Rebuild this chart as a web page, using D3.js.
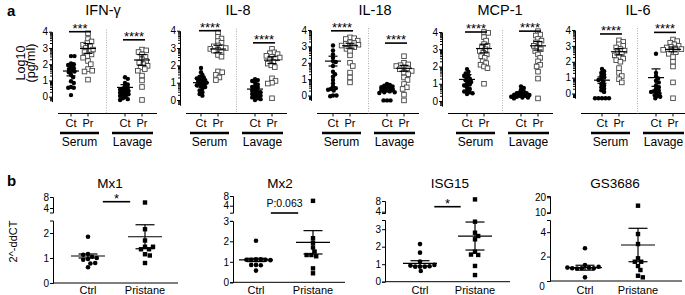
<!DOCTYPE html>
<html>
<head>
<meta charset="utf-8">
<script src="https://cdn.jsdelivr.net/npm/d3@7"></script>
<style>
body { margin: 0; background: #fff; }
svg { display: block; font-family: Arial, "Liberation Sans", sans-serif; }
</style>
</head>
<body>
<svg id="chart" width="685" height="295"></svg>
<script>
// ---- panel a data (log10 pg/ml) ----
const cytokines = ["IFN-γ", "IL-8", "IL-18", "MCP-1", "IL-6"];
const groupNames = ["Ct", "Pr", "Ct", "Pr"];
const sites = ["Serum", "Lavage"];
const logTicks = [0, 1, 2, 3, 4];

// each: [serum Ct, serum Pr, lavage Ct, lavage Pr]
const ifnPoints = [
  [2.5, 2.5, 2.05, 2.0, 1.95, 1.85, 1.75, 1.7, 1.6, 1.55, 1.5, 1.35, 1.2, 0.95, 0.85, 0.6, 0.55, 0.55, 0.1],
  [3.9, 3.55, 3.4, 3.3, 3.2, 3.1, 3.0, 2.9, 2.8, 2.75, 2.6, 2.5, 2.4, 2.2, 2.0, 1.7, 1.6, 1.55, 1.05],
  [1.2, 1.1, 0.85, 0.75, 0.65, 0.55, 0.5, 0.45, 0.4, 0.35, 0.3, 0.25, 0.2, 0.15, 0.1, 0.05, 0, -0.1, -0.15, -0.2],
  [2.9, 2.85, 2.75, 2.6, 2.45, 2.3, 2.2, 2.1, 2.0, 1.9, 1.8, 1.7, 1.6, 1.3, 1.0, 0.6, -0.2]
];
const il8Points = [
  [1.85, 1.6, 1.45, 1.35, 1.3, 1.25, 1.2, 1.15, 1.1, 1.05, 1.0, 0.95, 0.9, 0.85, 0.8, 0.75, 0.65, 0.55, 0.45, 0.35, 0.25],
  [3.9, 3.65, 3.55, 3.4, 3.3, 3.15, 3.1, 3.05, 3.0, 2.95, 2.9, 2.85, 2.75, 2.6, 2.5, 1.65, 1.6, 1.45, 1.3, 1.15],
  [1.2, 1.15, 1.1, 1.0, 0.9, 0.8, 0.75, 0.7, 0.6, 0.55, 0.5, 0.45, 0.4, 0.35, 0.3, 0.25, 0.2, 0.15, 0.1, 0.05, 0.0],
  [2.95, 2.75, 2.7, 2.65, 2.55, 2.5, 2.45, 2.4, 2.3, 2.2, 2.1, 2.0, 1.9, 1.25, 1.1, 1.0, 0.95, 0.1]
];
const il18Points = [
  [3.05, 2.75, 2.5, 2.3, 2.1, 2.05, 1.8, 1.45, 1.3, 1.15, 0.95, 0.75, 0.55, 0.45, 0.4, 0.35, 0.3, 0.0, 0.0, -0.05],
  [3.55, 3.5, 3.45, 3.35, 3.25, 3.2, 3.15, 3.1, 3.05, 3.0, 2.95, 2.85, 2.7, 2.45, 2.0, 1.8, 1.4, 1.1, 0.8],
  [0.7, 0.65, 0.6, 0.55, 0.5, 0.5, 0.45, 0.4, 0.35, 0.3, 0.3, 0.25, 0.2, 0.2, 0.15, -0.3, -0.3, -0.3],
  [2.4, 2.0, 1.9, 1.85, 1.8, 1.7, 1.65, 1.6, 1.5, 1.4, 1.3, 1.1, 0.95, 0.7, 0.5, 0.4, 0.05, -0.3]
];
const mcp1Points = [
  [1.85, 1.7, 1.6, 1.5, 1.45, 1.35, 1.3, 1.2, 1.15, 1.1, 1.0, 0.95, 0.9, 0.8, 0.7, 0.6, 0.55, 0.5, 0.45, 0.4],
  [4.0, 3.95, 3.7, 3.5, 3.3, 3.2, 3.1, 3.0, 2.9, 2.8, 2.7, 2.6, 2.5, 2.3, 2.2, 2.1, 2.0, 1.9, 1.0],
  [0.85, 0.75, 0.65, 0.55, 0.5, 0.45, 0.45, 0.4, 0.35, 0.35, 0.3, 0.3, 0.25, 0.25, 0.2, 0.2, 0.15],
  [4.05, 3.85, 3.8, 3.6, 3.5, 3.4, 3.3, 3.2, 3.1, 3.0, 2.9, 2.7, 2.5, 2.3, 2.1, 2.0, 1.7, 1.3, 0.15]
];
const il6Points = [
  [1.55, 1.4, 1.3, 1.2, 1.1, 1.0, 0.9, 0.85, 0.75, 0.6, 0.5, 0.4, 0.3, 0.2, 0.1, -0.3, -0.3, -0.3, -0.3, -0.3],
  [3.35, 3.25, 3.1, 3.0, 2.9, 2.8, 2.7, 2.6, 2.5, 2.4, 2.3, 2.2, 2.1, 2.0, 1.6, 1.3, 1.1, 0.9, 0.7],
  [2.5, 1.3, 1.1, 0.95, 0.8, 0.7, 0.5, 0.4, 0.3, 0.2, 0.15, 0.1, 0.05, 0.0, -0.1, -0.15, -0.2, -0.3],
  [3.4, 3.3, 3.2, 3.1, 3.0, 2.95, 2.9, 2.85, 2.8, 2.75, 2.7, 2.6, 2.5, 2.3, 2.0, 1.7, 0.7, -0.3]
];
const cytoPoints = [ifnPoints, il8Points, il18Points, mcp1Points, il6Points];
const cytoMeans = [[1.58, 2.97, 0.57, 2.26], [1.0, 2.94, 0.63, 2.3], [2.1, 3.04, 0.4, 1.66], [1.25, 3.04, 0.44, 3.2], [0.84, 2.63, 1.0, 2.78]];
const cytoErrors = [[0.3, 0.3, 0.17, 0.33], [0.25, 0.22, 0.15, 0.2], [0.3, 0.15, 0.1, 0.18], [0.28, 0.25, 0.08, 0.25], [0.2, 0.2, 0.55, 0.15]];
const cytoStars = [["***", "****"], ["****", "****"], ["****", "****"], ["****", "****"], ["****", "****"]];
const cytoStarLevels = [[4.0, 3.5], [4.0, 3.3], [3.95, 3.2], [4.0, 4.05], [3.75, 3.85]];

// ---- panel b data (2^-ddCT) ----
const genes = ["Mx1", "Mx2", "ISG15", "GS3686"];
const treatments = ["Ctrl", "Pristane"];
const mx1Values = [
  [1.85, 1.16, 1.05, 0.96, 0.93, 1.0, 1.13, 0.63, 0.78, 0.8],
  [6.0, 2.15, 1.7, 1.45, 1.35, 1.35, 1.45, 1.15, 1.1, 0.8]
];
const mx2Values = [
  [2.03, 1.12, 1.12, 1.1, 1.1, 1.1, 1.08, 0.85, 0.83, 0.85, 0.57],
  [6.0, 2.15, 1.93, 1.7, 1.5, 1.33, 1.27, 1.33, 0.68, 0.44]
];
const isg15Values = [
  [2.15, 1.66, 1.15, 0.86, 0.86, 0.86, 0.88, 0.92, 0.96, 0.61],
  [8.6, 3.43, 2.8, 2.61, 2.42, 1.71, 1.53, 1.55, 0.9, 0.38]
];
const gs3686Values = [
  [2.68, 1.31, 1.09, 1.05, 1.02, 1.05, 1.05, 1.17, 0.3, 1.1],
  [14.4, 3.85, 3.03, 1.86, 1.58, 1.58, 1.23, 0.9, 0.43, 0.3]
];
const geneValues = [mx1Values, mx2Values, isg15Values, gs3686Values];
const geneMeans = [[1.08, 1.85], [1.09, 1.95], [1.05, 2.61], [1.09, 2.95]];
const geneErrors = [[0.08, 0.48], [0.08, 0.57], [0.15, 0.8], [0.2, 1.37]];
const geneSig = ["*", "P:0.063", "*", null];
const lowerTicks = [[0, 1, 2], [0, 1, 2, 3], [0, 1, 2, 3], [2, 4]];
const upperTicks = [[4, 8], [4, 8], [4, 8], [10, 20]];

// ---- layout ----
const aAxisX = [52, 180, 311, 442, 575];
const aStartX = [71, 201, 333, 467, 602];
const aGroupOff = [0, 17, 54, 71];
const aY4 = [31.7, 30.7, 30, 32, 30];
const aY0 = [96.7, 100, 95.5, 101, 93.5];
const aTitleX = [103, 238, 375, 500, 638];
const aXAxisY = 113.5;

const bAxisX = [53, 233, 385, 550];
const bGroupX = [[88, 145], [256, 313], [420, 475], [585, 638]];
const bXEnd = [178, 345, 510, 682];
const bTitleX = [110, 280, 450, 615];
const bY0 = [283, 282.3, 281.7, 281];
const bPxUnit = [25, 20.5, 17.5, 12.2];
const bLowerTop = [220.5, 221, 220, 220];
const bUpperY = [[208, 197], [205.7, 196], [211.7, 201], [212.3, 197.3]];
const bUpperSeg = [[197, 212.5], [196, 212.7], [201, 213], [196, 213]];
const bSigY = [201.7, 213, 206.7, null];

const svg = d3.select("#chart");

function swarm(vals, yOf, cx, minDist, step) {
  const placed = [];
  return vals.map(v => {
    const y = yOf(v);
    let x = cx;
    for (let k = 0; k < 80; k++) {
      const tx = cx + Math.ceil(k / 2) * step * (k % 2 ? 1 : -1);
      if (placed.every(p => (p.x - tx) ** 2 + (p.y - y) ** 2 >= minDist * minDist)) { x = tx; break; }
    }
    placed.push({x, y});
    return {x, y, v};
  });
}

function styleAxis(g, fs) {
  g.selectAll("path, line").attr("stroke", "#000").attr("stroke-width", 1);
  g.selectAll("text").attr("fill", "#000").style("font-size", fs + "px").style("font-family", "Arial, 'Liberation Sans', sans-serif");
}

// panel labels
svg.append("text").attr("x", 7).attr("y", 16).attr("font-weight", "bold").attr("font-size", 15).text("a");
svg.append("text").attr("x", 7).attr("y", 186).attr("font-weight", "bold").attr("font-size", 15).text("b");

// y label panel a
const ylab = svg.append("g").attr("transform", "translate(0,63)");
ylab.append("text").attr("transform", "translate(25,0) rotate(-90)").attr("text-anchor", "middle").attr("font-size", 12.5).text("Log10");
ylab.append("text").attr("transform", "translate(35,0) rotate(-90)").attr("text-anchor", "middle").attr("font-size", 12.5).text("(pg/ml)");

// minor log ticks
const minorVals = [];
for (let d = -1; d <= 3; d++) for (let k = 2; k <= 9; k++) {
  const v = d + Math.log10(k);
  if (v >= -0.3 && v < 4) minorVals.push(v);
}

cytokines.forEach((name, p) => {
  const y = d3.scaleLinear().domain([0, 4]).range([aY0[p], aY4[p]]);
  const x = d3.scaleOrdinal().domain(d3.range(4)).range(aGroupOff.map(o => aStartX[p] + o));
  const yAxisScale = d3.scaleLinear().domain([-0.3, 4]).range([y(-0.3), y(4)]);
  const g = svg.append("g");

  g.append("text").attr("x", aTitleX[p]).attr("y", 15).attr("text-anchor", "middle").attr("font-size", 14.5).text(name);

  const ax = g.append("g").attr("transform", `translate(${aAxisX[p]},0)`)
    .call(d3.axisLeft(yAxisScale).tickValues(logTicks).tickSize(3).tickSizeOuter(0).tickPadding(1).tickFormat(d3.format("d")));
  styleAxis(ax, 10);
  const mn = g.append("g").attr("transform", `translate(${aAxisX[p]},0)`)
    .call(d3.axisLeft(yAxisScale).tickValues(minorVals).tickSize(2).tickFormat(""));
  mn.select(".domain").remove();
  styleAxis(mn, 10);

  // x axis
  const x0 = aAxisX[p] + 6, x1 = aStartX[p] + 86;
  g.append("line").attr("x1", x0).attr("x2", x1).attr("y1", aXAxisY).attr("y2", aXAxisY).attr("stroke", "#000");
  d3.range(4).forEach(i => {
    g.append("line").attr("x1", x(i)).attr("x2", x(i)).attr("y1", aXAxisY).attr("y2", aXAxisY + 3).attr("stroke", "#000");
    g.append("text").attr("x", x(i)).attr("y", 127).attr("text-anchor", "middle").attr("font-size", 11).text(groupNames[i]);
  });
  // divider
  const divX = aStartX[p] + 35.5;
  g.append("line").attr("x1", divX).attr("x2", divX).attr("y1", y(4) - 2).attr("y2", aXAxisY)
    .attr("stroke", "#999").attr("stroke-width", 0.8).attr("stroke-dasharray", "1,1.5");
  // site bars
  sites.forEach((s, j) => {
    const bx0 = j === 0 ? aStartX[p] - 11 : aStartX[p] + 41;
    const bx1 = j === 0 ? aStartX[p] + 28 : aStartX[p] + 82;
    g.append("line").attr("x1", bx0).attr("x2", bx1).attr("y1", 133).attr("y2", 133).attr("stroke", "#000").attr("stroke-width", 2.6);
    g.append("text").attr("x", (bx0 + bx1) / 2).attr("y", 146).attr("text-anchor", "middle").attr("font-size", 12).text(s);
  });

  // points
  cytoPoints[p].forEach((vals, i) => {
    const pts = swarm(vals, y, x(i), i % 2 ? 3.9 : 2.9, 0.7);
    if (i % 2 === 0) {
      g.selectAll(null).data(pts).enter().append("circle")
        .attr("cx", d => d.x).attr("cy", d => d.y).attr("r", 2.2).attr("fill", "#000");
    } else {
      g.selectAll(null).data(pts).enter().append("rect")
        .attr("x", d => d.x - 2.3).attr("y", d => d.y - 2.3).attr("width", 4.6).attr("height", 4.6)
        .attr("fill", "#fff").attr("stroke", "#444").attr("stroke-width", 0.9);
    }
    // mean +- error
    const m = cytoMeans[p][i], e = cytoErrors[p][i];
    g.append("line").attr("x1", x(i) - 8).attr("x2", x(i) + 8).attr("y1", y(m)).attr("y2", y(m)).attr("stroke", "#000").attr("stroke-width", 1.2);
    g.append("line").attr("x1", x(i)).attr("x2", x(i)).attr("y1", y(m - e)).attr("y2", y(m + e)).attr("stroke", "#000").attr("stroke-width", 1.2);
    [m - e, m + e].forEach(v => g.append("line").attr("x1", x(i) - 4.5).attr("x2", x(i) + 4.5).attr("y1", y(v)).attr("y2", y(v)).attr("stroke", "#000").attr("stroke-width", 1.2));
  });

  // significance
  [0, 1].forEach(j => {
    const sy = y(cytoStarLevels[p][j]);
    const sx0 = x(j * 2) - 2, sx1 = x(j * 2 + 1) + 3;
    g.append("line").attr("x1", sx0).attr("x2", sx1).attr("y1", sy).attr("y2", sy).attr("stroke", "#000").attr("stroke-width", 1.6);
    g.append("text").attr("x", (sx0 + sx1) / 2).attr("y", sy + 1).attr("text-anchor", "middle").attr("font-size", 13).text(cytoStars[p][j]);
  });
});

// ---- panel b ----
svg.append("text").attr("transform", "translate(16.5,241.5) rotate(-90)").attr("text-anchor", "middle").attr("font-size", 11).text("2^-ddCT");

genes.forEach((name, p) => {
  const g = svg.append("g");
  const lowerMax = (bY0[p] - bLowerTop[p]) / bPxUnit[p];
  const yLow = d3.scaleLinear().domain([0, lowerMax]).range([bY0[p], bLowerTop[p]]);
  const yUp = d3.scaleLinear().domain(upperTicks[p]).range(bUpperY[p]);
  const yOf = v => v > lowerMax ? yUp(v) : yLow(v);
  const x = d3.scaleOrdinal().domain(d3.range(2)).range(bGroupX[p]);

  g.append("text").attr("x", bTitleX[p]).attr("y", 188).attr("text-anchor", "middle").attr("font-size", 13.5).text(name);

  const la = g.append("g").attr("transform", `translate(${bAxisX[p]},0)`)
    .call(d3.axisLeft(yLow).tickValues(lowerTicks[p]).tickSize(3).tickSizeOuter(3).tickPadding(1).tickFormat(d3.format("d")));
  styleAxis(la, 10);
  const upScale = d3.scaleLinear().domain([yUp.invert(bUpperSeg[p][1]), yUp.invert(bUpperSeg[p][0])]).range([bUpperSeg[p][1], bUpperSeg[p][0]]);
  const ua = g.append("g").attr("transform", `translate(${bAxisX[p]},0)`)
    .call(d3.axisLeft(upScale).tickValues(upperTicks[p]).tickSize(3).tickSizeOuter(3).tickPadding(1).tickFormat(d3.format("d")));
  styleAxis(ua, 10);
  if (p === 3) {
    g.append("text").attr("x", bAxisX[p] - 8).attr("y", 290).attr("text-anchor", "middle").attr("font-size", 10).text("0");
  }

  g.append("line").attr("x1", bAxisX[p]).attr("x2", bXEnd[p]).attr("y1", bY0[p]).attr("y2", bY0[p]).attr("stroke", "#000");
  treatments.forEach((t, i) => {
    g.append("text").attr("x", x(i)).attr("y", 293.5).attr("text-anchor", "middle").attr("font-size", 11).text(t);
  });

  geneValues[p].forEach((vals, i) => {
    const pts = swarm(vals, yOf, x(i), 4.4, 0.8);
    if (i === 0) {
      g.selectAll(null).data(pts).enter().append("circle")
        .attr("cx", d => d.x).attr("cy", d => d.y).attr("r", 2.3).attr("fill", "#000");
    } else {
      g.selectAll(null).data(pts).enter().append("rect")
        .attr("x", d => d.x - 2.2).attr("y", d => d.y - 2.2).attr("width", 4.4).attr("height", 4.4).attr("fill", "#000");
    }
    const m = geneMeans[p][i], e = geneErrors[p][i];
    g.append("line").attr("x1", x(i) - 17).attr("x2", x(i) + 17).attr("y1", yLow(m)).attr("y2", yLow(m)).attr("stroke", "#000").attr("stroke-width", 1.2);
    g.append("line").attr("x1", x(i)).attr("x2", x(i)).attr("y1", yLow(m - e)).attr("y2", yLow(m + e)).attr("stroke", "#000").attr("stroke-width", 1.2);
    [m - e, m + e].forEach(v => g.append("line").attr("x1", x(i) - 9.5).attr("x2", x(i) + 9.5).attr("y1", yLow(v)).attr("y2", yLow(v)).attr("stroke", "#000").attr("stroke-width", 1.2));
  });

  if (geneSig[p]) {
    const gap = x(1) - x(0);
    const sx0 = x(0) + gap * 0.26, sx1 = x(1) - gap * 0.26;
    const sy = bSigY[p];
    g.append("line").attr("x1", sx0).attr("x2", sx1).attr("y1", sy).attr("y2", sy).attr("stroke", "#000").attr("stroke-width", 1.6);
    const star = geneSig[p] === "*";
    g.append("text").attr("x", (sx0 + sx1) / 2).attr("y", star ? sy + 1 : sy - 6)
      .attr("text-anchor", "middle").attr("font-size", star ? 13 : 10.5).text(geneSig[p]);
  }
});
</script>
</body>
</html>
